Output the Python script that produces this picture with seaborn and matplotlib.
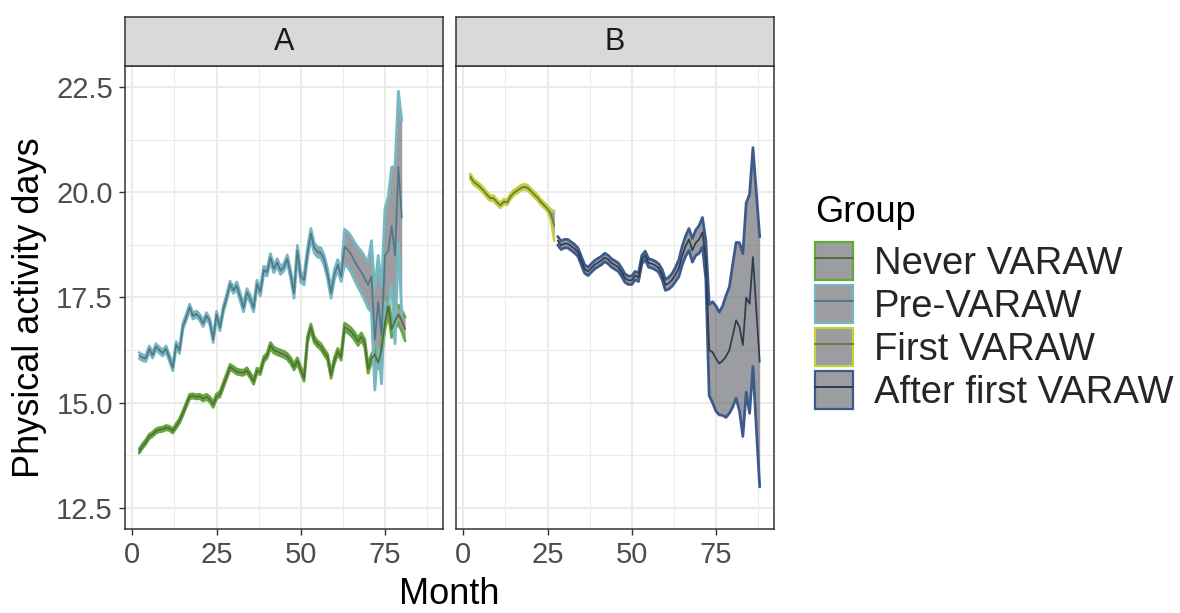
import numpy as np
import pandas as pd
import matplotlib
matplotlib.use("Agg")
import matplotlib.pyplot as plt
import seaborn as sns
from matplotlib.patches import Patch
from matplotlib.lines import Line2D
from matplotlib.colors import to_rgba
from matplotlib.ticker import MultipleLocator, FormatStrFormatter


# -----------------------------
# 0) Data (monthly mean and ribbon half-width)
# -----------------------------
never_months = list(range(2, 82))
never_mean = [
    13.85, 13.97, 14.07, 14.20, 14.25, 14.33, 14.36, 14.37, 14.41, 14.39,
    14.33, 14.45, 14.57, 14.75, 14.95, 15.15, 15.16, 15.14, 15.15, 15.10,
    15.14, 15.08, 14.95, 15.15, 15.20, 15.42, 15.63, 15.85, 15.80, 15.74,
    15.72, 15.71, 15.77, 15.65, 15.50, 15.76, 15.73, 16.03, 16.12, 16.36,
    16.25, 16.21, 16.18, 16.15, 16.10, 16.00, 15.85, 16.00, 15.78, 15.58,
    16.50, 16.80, 16.50, 16.40, 16.33, 16.20, 16.08, 15.65, 16.00, 16.22,
    16.08, 16.80, 16.75, 16.68, 16.58, 16.45, 16.57, 16.42, 15.80, 16.05,
    16.15, 15.95, 16.25, 16.90, 17.30, 16.75, 16.95, 17.10, 16.95, 16.75,
]
never_half = [
    0.05, 0.05, 0.05, 0.05, 0.05, 0.05, 0.05, 0.05, 0.05, 0.05,
    0.05, 0.05, 0.05, 0.05, 0.05, 0.05, 0.05, 0.05, 0.05, 0.06,
    0.06, 0.06, 0.06, 0.06, 0.06, 0.06, 0.06, 0.06, 0.06, 0.06,
    0.06, 0.06, 0.06, 0.06, 0.06, 0.06, 0.06, 0.06, 0.06, 0.07,
    0.07, 0.07, 0.07, 0.07, 0.07, 0.07, 0.07, 0.07, 0.07, 0.07,
    0.07, 0.07, 0.07, 0.07, 0.07, 0.07, 0.07, 0.07, 0.07, 0.07,
    0.07, 0.09, 0.09, 0.09, 0.09, 0.09, 0.09, 0.09, 0.10, 0.10,
    0.12, 0.14, 0.15, 0.16, 0.18, 0.20, 0.20, 0.22, 0.25, 0.28,
]

pre_months = list(range(2, 81))
pre_mean = [
    16.12, 16.07, 16.05, 16.28, 16.13, 16.33, 16.25, 16.18, 16.28, 16.06,
    15.83, 16.38, 16.24, 16.82, 17.03, 17.27, 17.06, 17.11, 17.03, 16.88,
    17.07, 16.93, 16.50, 17.10, 16.78, 17.22, 17.50, 17.82, 17.67, 17.78,
    17.52, 17.25, 17.62, 17.47, 17.25, 17.82, 17.63, 18.15, 18.10, 18.45,
    18.18, 18.33, 18.14, 18.22, 18.42, 18.05, 17.60, 18.62, 17.98, 17.92,
    18.55, 19.02, 18.68, 18.58, 18.56, 18.38, 18.05, 17.60, 18.05, 18.28,
    18.00, 18.70, 18.64, 18.52, 18.36, 18.22, 18.10, 17.95, 17.80, 18.00,
    16.50, 17.40, 16.60, 18.50, 18.60, 19.20, 18.50, 20.60, 19.40,
]
pre_half = [
    0.07, 0.07, 0.07, 0.07, 0.07, 0.07, 0.07, 0.07, 0.07, 0.07,
    0.07, 0.07, 0.07, 0.07, 0.07, 0.07, 0.07, 0.07, 0.07, 0.07,
    0.07, 0.07, 0.07, 0.07, 0.07, 0.07, 0.07, 0.07, 0.07, 0.09,
    0.09, 0.09, 0.09, 0.09, 0.09, 0.09, 0.09, 0.09, 0.09, 0.09,
    0.09, 0.09, 0.09, 0.09, 0.09, 0.09, 0.12, 0.12, 0.12, 0.12,
    0.12, 0.12, 0.12, 0.12, 0.12, 0.12, 0.12, 0.12, 0.12, 0.12,
    0.12, 0.42, 0.42, 0.43, 0.45, 0.47, 0.50, 0.52, 0.55, 0.85,
    1.20, 1.10, 1.15, 1.10, 1.30, 1.40, 2.10, 1.80, 2.30,
]

first_months = list(range(2, 28))
first_mean = [
    20.38, 20.25, 20.19, 20.12, 20.04, 19.94, 19.86, 19.86, 19.76, 19.69,
    19.78, 19.76, 19.90, 19.99, 20.04, 20.10, 20.13, 20.11, 20.03, 19.95,
    19.87, 19.77, 19.69, 19.61, 19.47, 19.20,
]
first_half = [
    0.06, 0.06, 0.06, 0.06, 0.06, 0.06, 0.06, 0.06, 0.06, 0.06,
    0.06, 0.06, 0.06, 0.06, 0.06, 0.06, 0.06, 0.06, 0.06, 0.06,
    0.06, 0.06, 0.06, 0.06, 0.12, 0.35,
]

after_months = list(range(28, 89))
after_mean = [
    18.85, 18.74, 18.78, 18.78, 18.72, 18.66, 18.58, 18.38, 18.18, 18.12,
    18.20, 18.28, 18.33, 18.38, 18.45, 18.40, 18.32, 18.27, 18.22, 18.10,
    17.96, 17.91, 17.91, 18.02, 17.98, 18.40, 18.50, 18.32, 18.30, 18.26,
    18.20, 18.05, 17.80, 17.84, 17.92, 18.05, 18.20, 18.50, 18.72, 18.88,
    18.62, 18.80, 18.88, 19.05, 18.40, 16.25, 16.20, 16.05, 15.93, 16.00,
    16.10, 16.25, 16.60, 16.96, 16.80, 16.37, 17.50, 17.35, 18.46, 17.20,
    15.97,
]
after_half = [
    0.10, 0.10, 0.10, 0.10, 0.10, 0.10, 0.10, 0.10, 0.10, 0.10,
    0.10, 0.10, 0.10, 0.10, 0.10, 0.10, 0.10, 0.10, 0.10, 0.10,
    0.10, 0.10, 0.10, 0.10, 0.10, 0.10, 0.10, 0.10, 0.10, 0.10,
    0.10, 0.12, 0.13, 0.14, 0.15, 0.17, 0.20, 0.22, 0.24, 0.26,
    0.28, 0.30, 0.33, 0.35, 0.45, 1.08, 1.20, 1.25, 1.22, 1.30,
    1.45, 1.50, 1.70, 1.85, 2.00, 2.17, 2.25, 2.60, 2.60, 2.80,
    2.97,
]

group_order = ["Never VARAW", "Pre-VARAW", "First VARAW", "After first VARAW"]
edge_colors = {
    "Never VARAW": "#64AA3B",
    "Pre-VARAW": "#76B8C3",
    "First VARAW": "#C4D23A",
    "After first VARAW": "#3C5A8B",
}
line_colors = {
    "Never VARAW": "#566B3E",
    "Pre-VARAW": "#527887",
    "First VARAW": "#707744",
    "After first VARAW": "#2F3B50",
}
ribbon_fill = "#55575E"
ribbon_alpha = 0.58


def build_long() -> pd.DataFrame:
    parts = [
        ("Never VARAW", "A", never_months, never_mean, never_half),
        ("Pre-VARAW", "A", pre_months, pre_mean, pre_half),
        ("First VARAW", "B", first_months, first_mean, first_half),
        ("After first VARAW", "B", after_months, after_mean, after_half),
    ]
    frames = []
    for name, panel, months, mean, half in parts:
        df = pd.DataFrame({"Month": months, "Value": mean, "Half": half})
        df["Group"] = name
        df["Panel"] = panel
        frames.append(df)
    long = pd.concat(frames, ignore_index=True)
    long["Lower"] = long["Value"] - long["Half"]
    long["Upper"] = long["Value"] + long["Half"]
    return long


# -----------------------------
# 1) Layout helpers (pixel boxes -> figure fractions)
# -----------------------------
W, H = 1180, 613


def px_box(left, top, right, bottom):
    return [left / W, 1 - bottom / H, (right - left) / W, (bottom - top) / H]


def style_panel(ax, show_y):
    ax.set_xlim(-2.2, 92.25)
    ax.set_ylim(12.0, 23.0)
    ax.xaxis.set_major_locator(MultipleLocator(25))
    ax.xaxis.set_minor_locator(MultipleLocator(12.5))
    ax.yaxis.set_major_locator(MultipleLocator(2.5))
    ax.yaxis.set_minor_locator(MultipleLocator(1.25))
    ax.yaxis.set_major_formatter(FormatStrFormatter("%.1f"))
    ax.set_axisbelow(True)
    ax.grid(which="major", color="#EBEBEB", linewidth=1.5)
    ax.grid(which="minor", color="#EBEBEB", linewidth=0.8)
    ax.tick_params(which="major", length=4.3, width=1.0, color="#333333",
                   labelsize=21, labelcolor="#4D4D4D", pad=4.5)
    ax.tick_params(which="minor", length=0)
    if not show_y:
        ax.tick_params(axis="y", which="both", left=False, labelleft=False)
    for sp in ax.spines.values():
        sp.set_color("#333333")
        sp.set_linewidth(1.1)
    ax.set_xlabel("")
    ax.set_ylabel("")


def draw_strip(fig, box, label):
    sax = fig.add_axes(box)
    sax.set_facecolor("#D9D9D9")
    sax.set_xticks([])
    sax.set_yticks([])
    for sp in sax.spines.values():
        sp.set_color("#333333")
        sp.set_linewidth(1.1)
    sax.text(0.5, 0.5, label, ha="center", va="center", fontsize=22,
             color="#1A1A1A", transform=sax.transAxes)


def draw_ribbons(ax, df):
    for name in group_order:
        sub = df[df["Group"] == name].sort_values("Month")
        if sub.empty:
            continue
        ax.fill_between(sub["Month"], sub["Lower"], sub["Upper"],
                        facecolor=ribbon_fill, alpha=ribbon_alpha,
                        linewidth=0, zorder=2)
        ax.plot(sub["Month"], sub["Lower"], color=edge_colors[name],
                linewidth=2.0, zorder=3)
        ax.plot(sub["Month"], sub["Upper"], color=edge_colors[name],
                linewidth=2.0, zorder=3)


# -----------------------------
# 2) Plot
# -----------------------------
sns.set_theme(style="ticks")
plt.rcParams["font.family"] = ["Liberation Sans", "DejaVu Sans"]

long_df = build_long()

fig = plt.figure(figsize=(W / 100, H / 100), dpi=100)
ax_a = fig.add_axes(px_box(125, 66, 443, 529))
ax_b = fig.add_axes(px_box(456, 66, 774, 529))

for ax, panel, show_y in [(ax_a, "A", True), (ax_b, "B", False)]:
    sub = long_df[long_df["Panel"] == panel]
    draw_ribbons(ax, sub)
    sns.lineplot(data=sub, x="Month", y="Value", hue="Group",
                 hue_order=[g for g in group_order if g in set(sub["Group"])],
                 palette=line_colors, linewidth=1.25, legend=False,
                 ax=ax, zorder=4)
    style_panel(ax, show_y)

draw_strip(fig, px_box(125, 17, 443, 66), "A")
draw_strip(fig, px_box(456, 17, 774, 66), "B")

fig.text(449.5 / W, 1.0 / H, "Month", ha="center", va="bottom",
         fontsize=26, color="black")
fig.text(30 / W, 1 - 308 / H, "Physical activity days", rotation=90,
         ha="center", va="center", fontsize=26, color="black")

# legend title placed on its own so the gap to the keys can match
fig.text(815 / W, 1 - 222 / H, "Group", ha="left", va="baseline",
         fontsize=26, color="black")
handles = [
    (Patch(facecolor=to_rgba(ribbon_fill, ribbon_alpha),
           edgecolor=edge_colors[g], linewidth=1.6),
     Line2D([], [], color=line_colors[g], linewidth=1.4))
    for g in group_order
]
fig.legend(handles, group_order, loc="upper left",
           bbox_to_anchor=(815 / W, 1 - 242 / H), frameon=False,
           fontsize=27.5, handlelength=1.0, handleheight=1.154,
           labelspacing=0.08, handletextpad=0.55, borderpad=0,
           borderaxespad=0)

fig.savefig("out.png", dpi=100)
